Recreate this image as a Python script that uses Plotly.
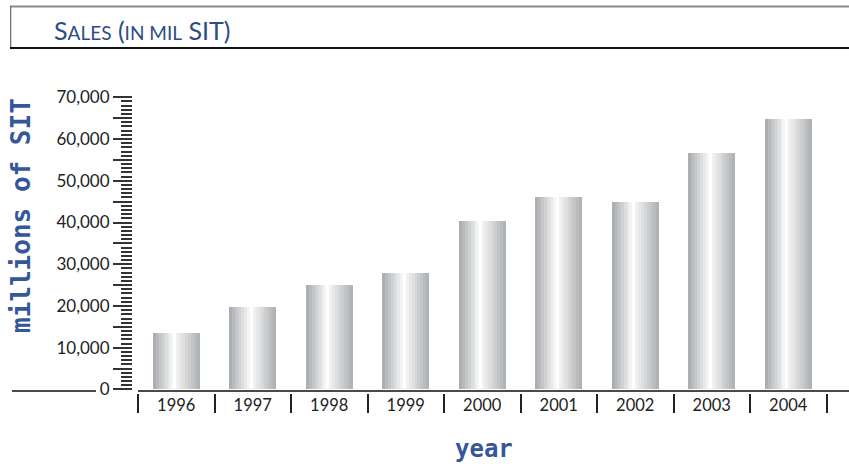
import plotly.graph_objects as go

# Annual sales, millions of SIT
years = ["1996", "1997", "1998", "1999", "2000", "2001", "2002", "2003", "2004"]
sales = [13600, 19850, 25050, 28000, 40400, 46200, 44900, 56750, 64800]

y_tick_vals = [0, 5000, 10000, 15000, 20000, 25000, 30000, 35000,
               40000, 45000, 50000, 55000, 60000, 65000, 70000]
y_tick_text = ["0", "", "10,000", "", "20,000", "", "30,000", "",
               "40,000", "", "50,000", "", "60,000", "", "70,000"]

W, H = 849, 467
M_TOP, M_BOT = 96, 74
PLOT_H = H - M_TOP - M_BOT


def px_x(px):
    return px / W


def px_y(py):
    return (H - M_BOT - py) / PLOT_H


BLUE = "#2c4b88"
INK = "#222222"
FONT = "Lato, 'Open Sans', sans-serif"

# metallic cylinder look: each bar is built from narrow vertical stripes
N = 16
BAR_W = 0.61
stripe_w = BAR_W / N


def mix(c1, c2, t):
    return "rgb(%d,%d,%d)" % tuple(round(a + (b - a) * t) for a, b in zip(c1, c2))


half = N // 2
stripe_colors = []
for i in range(half):
    stripe_colors.append(mix((172, 175, 178), (255, 255, 255), i / (half - 1)))
for i in range(half):
    stripe_colors.append(mix((240, 240, 240), (176, 179, 182), i / (half - 1)))

fig = go.Figure()
for i, col in enumerate(stripe_colors):
    fig.add_trace(go.Bar(
        x=years, y=sales,
        width=stripe_w * 1.08,
        offset=-BAR_W / 2 + i * stripe_w,
        marker=dict(color=col, line=dict(width=0)),
        hoverinfo="skip", showlegend=False,
    ))

# carrier trace for the separator axis
fig.add_trace(go.Scatter(
    x=years, y=sales, xaxis="x2", mode="markers",
    marker=dict(opacity=0), hoverinfo="skip", showlegend=False,
))

fig.update_layout(
    width=W, height=H,
    margin=dict(l=0, r=0, t=M_TOP, b=M_BOT),
    paper_bgcolor="white", plot_bgcolor="white",
    barmode="overlay", bargap=0,
    xaxis=dict(
        type="category", categoryorder="array", categoryarray=years,
        domain=[px_x(138), px_x(826.5)], range=[-0.5, 8.5],
        showline=False, showgrid=False, zeroline=False, ticks="",
        tickfont=dict(family=FONT, size=16.5, color=INK),
        fixedrange=True,
    ),
    xaxis2=dict(
        overlaying="x", matches="x", anchor="y", side="bottom",
        type="category", categoryorder="array", categoryarray=years,
        tickson="boundaries", ticks="outside", ticklen=19,
        tickwidth=1.6, tickcolor=INK, showticklabels=False,
        showline=False, showgrid=False, zeroline=False,
    ),
    yaxis=dict(
        range=[-840, 70300], anchor="free", position=px_x(132),
        tickmode="array", tickvals=y_tick_vals, ticktext=y_tick_text,
        ticks="outside", ticklen=19, tickwidth=1.5, tickcolor="#333333",
        minor=dict(dtick=1000, tick0=0, ticks="outside", ticklen=11,
                   tickwidth=1.5, tickcolor="#333333", showgrid=False),
        tickfont=dict(family=FONT, size=17, color=INK),
        showline=False, showgrid=False, zeroline=False,
        fixedrange=True,
    ),
)

# baseline pieces
line_col = "#4a4a4a"
fig.add_shape(type="line", xref="paper", yref="paper",
              x0=px_x(12), x1=px_x(96), y0=px_y(391), y1=px_y(391),
              line=dict(color=line_col, width=2))
fig.add_shape(type="line", xref="paper", yref="paper",
              x0=px_x(138), x1=1, y0=px_y(391), y1=px_y(391),
              line=dict(color=line_col, width=2))

# title panel
fig.add_shape(type="line", xref="paper", yref="paper",
              x0=px_x(10), x1=1, y0=px_y(6.5), y1=px_y(6.5),
              line=dict(color="#8a8a8a", width=2))
fig.add_shape(type="line", xref="paper", yref="paper",
              x0=px_x(10.7), x1=px_x(10.7), y0=px_y(6), y1=px_y(48),
              line=dict(color="#6a6a6a", width=1.2))
fig.add_shape(type="line", xref="paper", yref="paper",
              x0=px_x(10), x1=1, y0=px_y(48), y1=px_y(48),
              line=dict(color="#111111", width=2))

small = '<span style="font-size:19px">%s</span>'
title_html = "S" + small % "ALES" + " (" + small % "IN MIL" + " SIT)"
fig.add_annotation(
    text=title_html, xref="paper", yref="paper",
    x=px_x(52), y=px_y(30), xanchor="left", yanchor="middle",
    showarrow=False, font=dict(family=FONT, size=25, color=BLUE),
)

# axis titles
fig.add_annotation(
    text="<b>millions of SIT</b>", xref="paper", yref="paper",
    x=px_x(21), y=px_y(216), xanchor="center", yanchor="middle",
    textangle=-90, showarrow=False,
    font=dict(family="'DejaVu Sans Mono', monospace", size=26, color="#34579a"),
)
fig.add_annotation(
    text="<b>year</b>", xref="paper", yref="paper",
    x=px_x(484), y=px_y(449), xanchor="center", yanchor="middle",
    showarrow=False,
    font=dict(family="'DejaVu Sans Mono', monospace", size=24, color="#34579a"),
)

fig.write_html("out.html")
